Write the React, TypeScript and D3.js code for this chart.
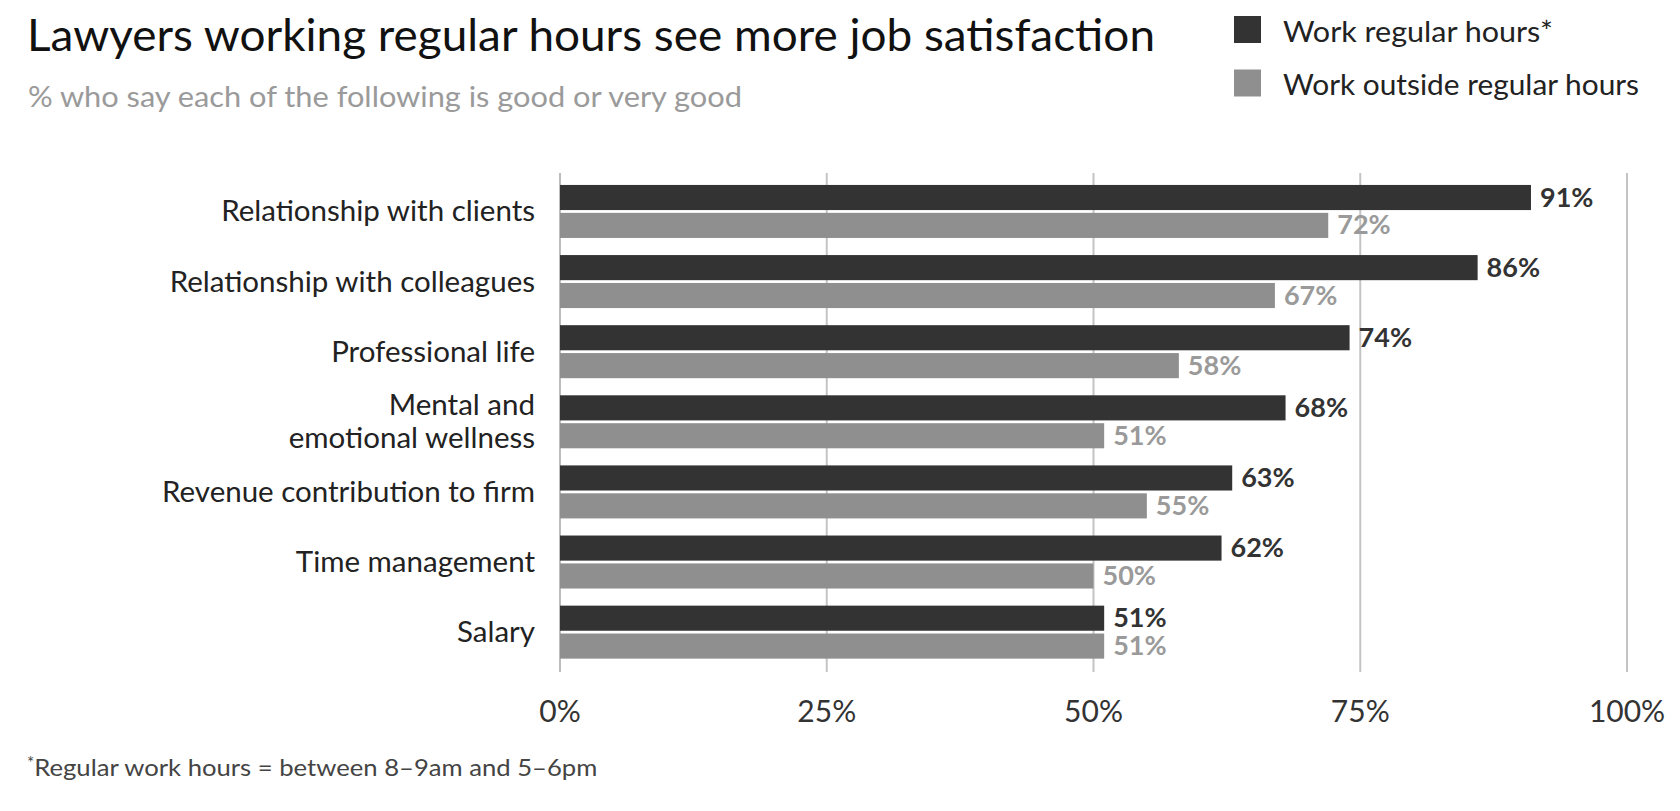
import React from "react";
import * as d3 from "d3";

const categories = [
  "Relationship with clients",
  "Relationship with colleagues",
  "Professional life",
  "Mental and\nemotional wellness",
  "Revenue contribution to firm",
  "Time management",
  "Salary",
];
const regularHours = [91, 86, 74, 68, 63, 62, 51];
const outsideHours = [72, 67, 58, 51, 55, 50, 51];
const seriesKeys = ["regular", "outside"];
const seriesNames = ["Work regular hours*", "Work outside regular hours"];
const legendWidths = [270, 356];
const tickValues = [0, 25, 50, 75, 100];

const W = 1680;
const H = 811;
const FONT = "Lato, 'Open Sans', sans-serif";
const DARK = "#333333";
const LIGHT = "#8f8f8f";
const DARK_TXT = "#333333";
const LIGHT_TXT = "#9a9a9a";

export default function App() {
  const x = d3.scaleLinear().domain([0, 100]).range([560, 1627]);
  const y = d3
    .scaleBand<string>()
    .domain(categories)
    .range([176.4, 667.2])
    .paddingInner(0.244)
    .paddingOuter(0.122);
  const yi = d3
    .scaleBand<string>()
    .domain(seriesKeys)
    .range([0, y.bandwidth()])
    .paddingInner(0.1);
  const color = d3.scaleOrdinal<string, string>().domain(seriesKeys).range([DARK, LIGHT]);
  const txtColor = d3.scaleOrdinal<string, string>().domain(seriesKeys).range([DARK_TXT, LIGHT_TXT]);

  const rows = categories.map((c, i) => ({
    cat: c,
    vals: [
      { key: "regular", v: regularHours[i] },
      { key: "outside", v: outsideHours[i] },
    ],
  }));

  return (
    <div style={{ position: "absolute", left: 0, top: 0 }}>
      <svg width={W} height={H} style={{ display: "block", background: "#fff" }} fontFamily={FONT}>
        <rect width={W} height={H} fill="#fff" />
        {/* Title */}
        <text x={27} y={51} fontSize={45} fill="#111" textLength={1128} lengthAdjust="spacingAndGlyphs">
          Lawyers working regular hours see more job satisfaction
        </text>
        <text x={28} y={107} fontSize={29} fill="#9a9a9a" textLength={714} lengthAdjust="spacingAndGlyphs">
          % who say each of the following is good or very good
        </text>

        {/* Legend */}
        {seriesKeys.map((k, i) => (
          <g key={k}>
            <rect x={1234} y={16 + i * 53.5} width={27} height={27} fill={color(k)} />
            <text
              x={1283}
              y={41.5 + i * 53}
              fontSize={28}
              fill="#222"
              textLength={legendWidths[i]}
              lengthAdjust="spacingAndGlyphs"
            >
              {seriesNames[i]}
            </text>
          </g>
        ))}

        {/* Grid */}
        {tickValues.map((t) => (
          <g key={t}>
            <line
              x1={x(t)}
              x2={x(t)}
              y1={173}
              y2={672}
              stroke={t === 0 ? "#bdbdbd" : "#c4c4c4"}
              strokeWidth={2}
            />
            <text x={x(t)} y={722} fontSize={30} fill="#333" textAnchor="middle">
              {t}%
            </text>
          </g>
        ))}

        {/* Bars */}
        {rows.map((r) => {
          const y0 = y(r.cat)!;
          const lines = r.cat.split("\n");
          const cy = y0 + y.bandwidth() / 2;
          return (
            <g key={r.cat}>
              <text x={535} fontSize={29.5} fill="#222" textAnchor="end">
                {lines.map((ln, j) => (
                  <tspan key={j} x={535} y={cy + 10 + (j - (lines.length - 1) / 2) * 33}>
                    {ln}
                  </tspan>
                ))}
              </text>
              {r.vals.map((d) => {
                const by = y0 + yi(d.key)!;
                return (
                  <g key={d.key}>
                    <rect
                      x={x(0)}
                      y={by}
                      width={x(d.v) - x(0)}
                      height={yi.bandwidth()}
                      fill={color(d.key)}
                    />
                    <text
                      x={x(d.v) + 9}
                      y={by + yi.bandwidth() / 2 + 9}
                      fontSize={27}
                      fontWeight={700}
                      fill={txtColor(d.key)}
                    >
                      {d.v}%
                    </text>
                  </g>
                );
              })}
            </g>
          );
        })}

        {/* Footnote */}
        <text x={27} y={776} fontSize={23} fill="#444">
          <tspan fontSize={17} dy={-7}>*</tspan>
          <tspan dy={7} textLength={563} lengthAdjust="spacingAndGlyphs">
            Regular work hours = between 8–9am and 5–6pm
          </tspan>
        </text>
      </svg>
    </div>
  );
}
